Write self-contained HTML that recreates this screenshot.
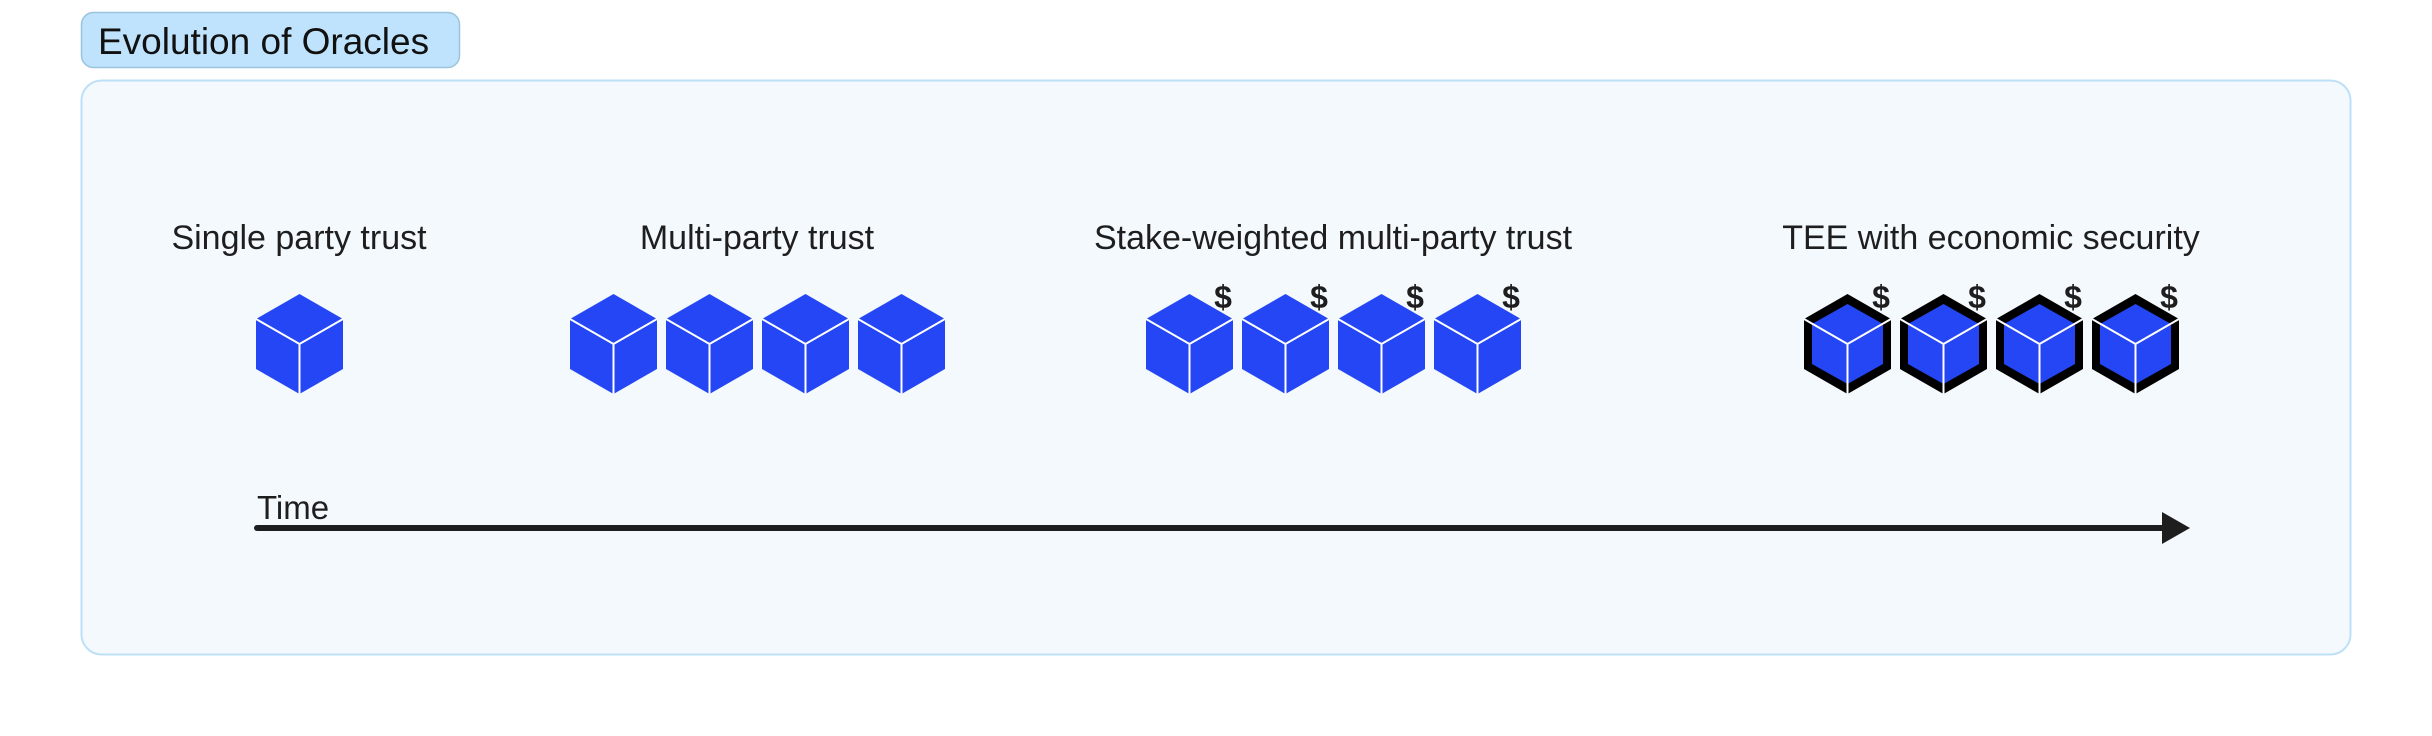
<!DOCTYPE html>
<html><head><meta charset="utf-8"><style>
html,body{margin:0;padding:0;background:#fff;}
body{width:2432px;height:736px;position:relative;overflow:hidden;font-family:"Liberation Sans",sans-serif;color:#1e1e1e;}
</style></head><body>
<svg width="2432" height="736" viewBox="0 0 2432 736" xmlns="http://www.w3.org/2000/svg" style="position:absolute;left:0;top:0">
<defs>
<g id="cube">
<polygon points="43.5,0 87,25 87,75 43.5,100 0,75 0,25" fill="#2546f5"/>
<polyline points="0,25 43.5,50 87,25" fill="none" stroke="#fff" stroke-width="2"/>
<line x1="43.5" y1="50" x2="43.5" y2="100" stroke="#fff" stroke-width="2"/>
</g>
<g id="tee">
<polygon points="43.5,0 87,25 87,75 43.5,100 0,75 0,25" fill="#000"/>
<polygon points="43.5,10 79,30 79,70 43.5,90 8,70 8,30" fill="#2546f5"/>
<polyline points="0,25 43.5,50 87,25" fill="none" stroke="#fff" stroke-width="2"/>
<line x1="43.5" y1="50" x2="43.5" y2="100" stroke="#fff" stroke-width="2"/>
</g>
</defs>
<rect x="81.5" y="12.5" width="378" height="55" rx="12" fill="#bfe3fc" stroke="#9cc3dd" stroke-width="1.5"/>
<text x="98" y="54" font-size="37" font-family="Liberation Sans, sans-serif" fill="#111">Evolution of Oracles</text>
<rect x="81.5" y="80.5" width="2269" height="574" rx="20" fill="#f4f9fe" stroke="#bde0f7" stroke-width="2"/>
<g font-size="34" font-family="Liberation Sans, sans-serif" fill="#1e1e1e" text-anchor="middle">
<text x="299" y="249">Single party trust</text>
<text x="757" y="249">Multi-party trust</text>
<text x="1333" y="249">Stake-weighted multi-party trust</text>
<text x="1991" y="249">TEE with economic security</text>
</g>
<use href="#cube" x="256" y="294"/>
<use href="#cube" x="570" y="294"/>
<use href="#cube" x="666" y="294"/>
<use href="#cube" x="762" y="294"/>
<use href="#cube" x="858" y="294"/>
<use href="#cube" x="1146" y="294"/>
<use href="#cube" x="1242" y="294"/>
<use href="#cube" x="1338" y="294"/>
<use href="#cube" x="1434" y="294"/>
<use href="#tee" x="1804" y="294"/>
<use href="#tee" x="1900" y="294"/>
<use href="#tee" x="1996" y="294"/>
<use href="#tee" x="2092" y="294"/>
<g font-size="32" font-weight="bold" font-family="Liberation Sans, sans-serif" fill="#1e1e1e" text-anchor="middle">
<text x="1223" y="308">$</text><text x="1319" y="308">$</text><text x="1415" y="308">$</text><text x="1511" y="308">$</text>
<text x="1881" y="308">$</text><text x="1977" y="308">$</text><text x="2073" y="308">$</text><text x="2169" y="308">$</text>
</g>
<text x="257" y="519" font-size="33" font-family="Liberation Sans, sans-serif" fill="#1e1e1e">Time</text>
<line x1="257" y1="528" x2="2168" y2="528" stroke="#1e1e1e" stroke-width="6" stroke-linecap="round"/>
<polygon points="2162,512 2190,528 2162,544" fill="#1e1e1e"/>
</svg>
</body></html>
